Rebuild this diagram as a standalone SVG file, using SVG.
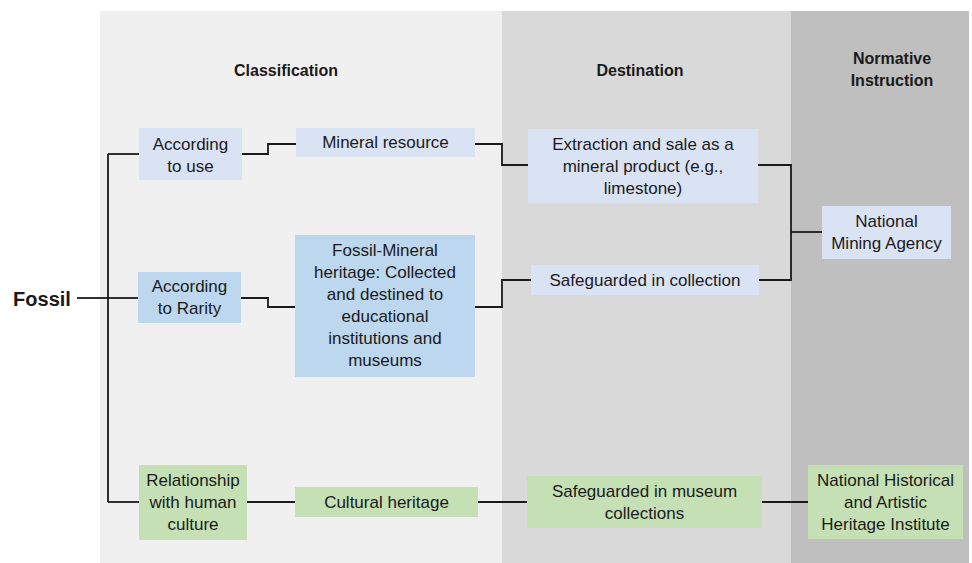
<svg xmlns="http://www.w3.org/2000/svg" width="972" height="563" viewBox="0 0 972 563">
<style>
text{font-family:"Liberation Sans",Arial,sans-serif;fill:#1a1a1a;text-anchor:middle}
.h{font-size:16px;font-weight:bold}
.t{font-size:17px}
.b1{fill:#dae3f3}
.b2{fill:#bdd7ee}
.g{fill:#c5e0b4}
.c{fill:none;stroke:#1a1a1a;stroke-width:1.8}
</style>
<rect x="0" y="0" width="972" height="563" fill="#ffffff"/>
<g id="panels">
<rect x="100" y="11" width="402" height="552" fill="#f0f0f0"/>
<rect x="502" y="11" width="289" height="552" fill="#d9d9d9"/>
<rect x="791" y="11" width="178" height="552" fill="#bfbfbf"/>
</g>
<g id="headers">
<text class="h" x="286" y="76">Classification</text>
<text class="h" x="640" y="76">Destination</text>
<text class="h" x="892" y="64">Normative</text>
<text class="h" x="892" y="86">Instruction</text>
</g>
<g id="connectors">
<path class="c" d="M77,298 H108"/>
<path class="c" d="M108,154 V502"/>
<path class="c" d="M108,154 H139"/>
<path class="c" d="M108,298 H138"/>
<path class="c" d="M108,502 H139"/>
<path class="c" d="M242,154 H268 V144 H296"/>
<path class="c" d="M475,144 H502 V165 H528"/>
<path class="c" d="M241,298 H268 V307 H295"/>
<path class="c" d="M475,307 H502 V280 H531"/>
<path class="c" d="M758,165 H791 V280 H759"/>
<path class="c" d="M791,232 H822"/>
<path class="c" d="M247,502 H295"/>
<path class="c" d="M478,502 H527"/>
<path class="c" d="M762,502 H808"/>
</g>
<g id="fossil">
<text x="42" y="306" style="font-size:20px;font-weight:bold">Fossil</text>
</g>
<g id="according-use">
<rect class="b1" x="139" y="128" width="103" height="52"/>
<text class="t" x="190.5" y="150">According</text>
<text class="t" x="190.5" y="172">to use</text>
</g>
<g id="mineral-resource">
<rect class="b1" x="296" y="128" width="179" height="29"/>
<text class="t" x="385.5" y="148">Mineral resource</text>
</g>
<g id="extraction">
<rect class="b1" x="528" y="129" width="230" height="74"/>
<text class="t" x="643" y="150">Extraction and sale as a</text>
<text class="t" x="643" y="172">mineral product (e.g.,</text>
<text class="t" x="643" y="194">limestone)</text>
</g>
<g id="mining-agency">
<rect class="b1" x="822" y="206" width="129" height="53"/>
<text class="t" x="886.5" y="227">National</text>
<text class="t" x="886.5" y="249">Mining Agency</text>
</g>
<g id="according-rarity">
<rect class="b2" x="138" y="272" width="103" height="51"/>
<text class="t" x="189.5" y="292">According</text>
<text class="t" x="189.5" y="314">to Rarity</text>
</g>
<g id="fossil-mineral">
<rect class="b2" x="295" y="235" width="180" height="142"/>
<text class="t" x="385" y="256">Fossil-Mineral</text>
<text class="t" x="385" y="278">heritage: Collected</text>
<text class="t" x="385" y="300">and destined to</text>
<text class="t" x="385" y="322">educational</text>
<text class="t" x="385" y="344">institutions and</text>
<text class="t" x="385" y="366">museums</text>
</g>
<g id="safeguarded-collection">
<rect class="b1" x="531" y="265" width="228" height="30"/>
<text class="t" x="645" y="286">Safeguarded in collection</text>
</g>
<g id="relationship">
<rect class="g" x="139" y="465" width="108" height="75"/>
<text class="t" x="193" y="486">Relationship</text>
<text class="t" x="193" y="508">with human</text>
<text class="t" x="193" y="530">culture</text>
</g>
<g id="cultural-heritage">
<rect class="g" x="295" y="487" width="183" height="30"/>
<text class="t" x="386.5" y="508">Cultural heritage</text>
</g>
<g id="safeguarded-museum">
<rect class="g" x="527" y="476" width="235" height="52"/>
<text class="t" x="644.5" y="497">Safeguarded in museum</text>
<text class="t" x="644.5" y="519">collections</text>
</g>
<g id="iphan">
<rect class="g" x="808" y="465" width="155" height="74"/>
<text class="t" x="885.5" y="486">National Historical</text>
<text class="t" x="885.5" y="508">and Artistic</text>
<text class="t" x="885.5" y="530">Heritage Institute</text>
</g>
</svg>
